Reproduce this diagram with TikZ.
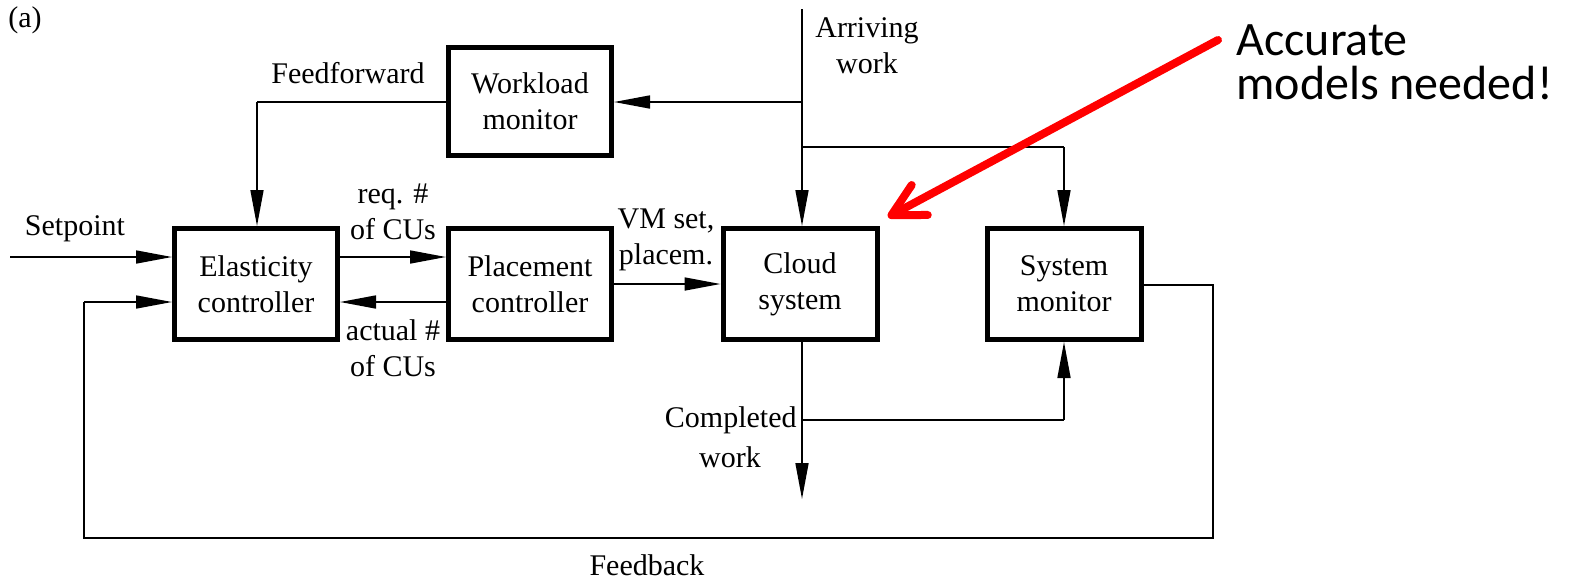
\documentclass[tikz,border=0pt]{standalone}
\usepackage{fontspec}
\setmainfont{Liberation Serif}
\newfontfamily\notefont{Carlito}
\usetikzlibrary{arrows.meta}
\begin{document}
\begin{tikzpicture}[x=0.5pt,y=-0.5pt,
  txt/.style={font=\rmfamily\fontsize{15}{18}\selectfont},
  block/.style={txt, draw, line width=2.5pt, align=center, inner sep=0pt,
    minimum height=55.5pt},
  wideblock/.style={block, minimum width=81.5pt},
  narrowblock/.style={block, minimum width=77pt},
  wire/.style={line width=0.8pt},
  flow/.style={wire, -{Triangle[length=18pt,width=6.5pt]}},
  lbl/.style={txt, align=center, inner sep=0pt},
  remark/.style={align=left, inner sep=0pt, font=\notefont\fontsize{24}{22}\selectfont}]
\useasboundingbox (0,0) rectangle (1571,580);

% blocks
\node[wideblock] (ec) at (256,284) {Elasticity\\controller};
\node[wideblock] (pc) at (530,284) {Placement\\controller};
\node[narrowblock] (cs) at (800,284) {Cloud\\system};
\node[narrowblock] (sm) at (1064,284) {System\\monitor};
\node[wideblock, minimum height=54pt] (wm) at (530,101.5) {Workload\\monitor};

% junctions and free ends
\coordinate (setin) at (10,257);
\coordinate (arrtop) at (802,9);
\coordinate (jwm) at (802,102);
\coordinate (jsm) at (802,147);
\coordinate (jsmr) at (1064,147);
\coordinate (ffcorner) at (257,102);
\coordinate (jdone) at (802,420);
\coordinate (jdoner) at (1064,420);
\coordinate (doneout) at (802,499);
\coordinate (fb1) at (1213,285);
\coordinate (fb2) at (1213,538);
\coordinate (fb3) at (84,538);
\coordinate (fb4) at (84,302);

% signal paths
\draw[flow] (setin) -- (setin -| ec.west);
\draw[flow] (ec.east |- 0,257) -- (pc.west |- 0,257);
\draw[flow] (pc.west |- 0,302) -- (ec.east |- 0,302);
\draw[flow] (pc.east) -- (cs.west);
\draw[flow] (arrtop) -- (cs.north -| arrtop);
\draw[flow] (jwm) -- (wm.east |- jwm);
\draw[wire] (jsm) -- (jsmr);
\draw[flow] (jsmr) -- (sm.north);
\draw[wire] (wm.west |- ffcorner) -- (ffcorner);
\draw[flow] (ffcorner) -- (ec.north -| ffcorner);
\draw[flow] (cs.south -| jdone) -- (doneout);
\draw[wire] (jdone) -- (jdoner);
\draw[flow] (jdoner) -- (sm.south);
\draw[wire] (sm.east |- fb1) -- (fb1) -- (fb2) -- (fb3) -- (fb4);
\draw[flow] (fb4) -- (ec.west |- fb4);

% labels
\node[lbl] (ta) at (25,20) {(a)};
\node[lbl] (tsp) at (75,229) {Setpoint};
\node[lbl] (treq) at (393,212) {req. \#\\of CUs};
\node[lbl] (tact) at (393,348) {actual \#\\of CUs};
\node[lbl] (tvm) at (666,240) {VM set,\\placem.};
\node[lbl] (tff) at (348,73) {Feedforward};
\node[lbl] (tarr) at (867,46) {Arriving\\work};
\node[lbl, anchor=east] (tdone) at (797,420) {Completed};
\node[lbl] (tdone2) at (730,457) {work};
\node[lbl] (tfb) at (647,565) {Feedback};

% annotation
\node[remark, anchor=base west] (note) at (1236,99) {Accurate\\models needed!};
\coordinate (tip) at (888,217);
\draw[red, line width=4pt, line cap=round,
  -{Straight Barb[length=16pt,width=17pt,round]}] (1218,40) -- (tip);
\end{tikzpicture}
\end{document}
